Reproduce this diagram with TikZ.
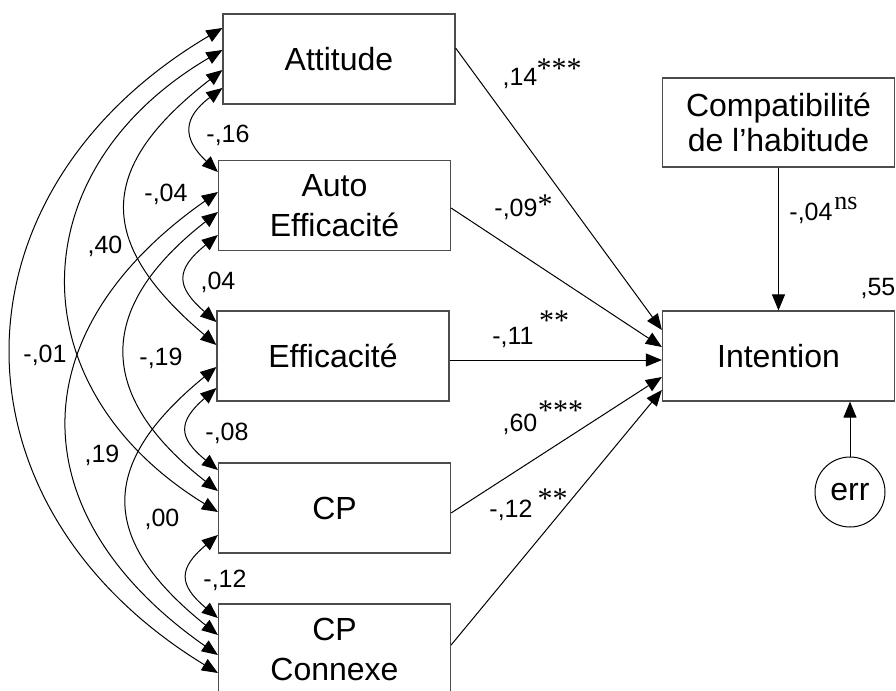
\documentclass[tikz,border=0pt]{standalone}
\usepackage{fontspec}
\setmainfont{Liberation Sans}
\newfontfamily\serifsig{Liberation Serif}
\usetikzlibrary{calc,arrows.meta}

\begin{document}
\begin{tikzpicture}[x=0.5pt, y=-0.5pt,
  >={Triangle[length=8pt,width=6.5pt]},
  var/.style={draw=black!70, line width=0.6pt, minimum width=116pt, minimum height=45pt,
    inner sep=0pt, align=center, font=\fontsize{16}{20}\selectfont},
  cov/.style={<->, line width=0.5pt},
  reg/.style={->, line width=0.5pt},
  coef/.style={font=\fontsize{12.5}{14}\selectfont, inner sep=0pt},
  sig/.style={font=\serifsig\fontsize{15}{17}\selectfont, inner sep=0pt}]

\useasboundingbox (0,0) rectangle (896,691);

% Predictors
\node[var] (att) at (339,59) {Attitude};
\node[var] (ae)  at (334.5,205.5) {Auto\\Efficacité};
\node[var] (eff) at (333,356) {Efficacité};
\node[var] (cp)  at (334.5,508) {CP};
\node[var] (cpc) at (334.5,649) {CP\\Connexe};

% Outcome, habit and error
\node[var] (intent) at (778.5,356) {Intention};
\node[var, minimum height=44.5pt, font=\fontsize{16}{17.5}\selectfont] (compat) at (778.5,122.5) {Compatibilité\\de l’habitude};
\node[draw, circle, line width=0.5pt, minimum size=35pt, inner sep=0pt, font=\fontsize{16}{20}\selectfont] (err) at (850,492) {err};

% Covariances between neighbours
\draw[cov] ($(att.west)+(0,29)$) to[bend right=50, looseness=1.5] ($(ae.west)+(0,-33.5)$);
\draw[cov] ($(ae.west)+(0,29.5)$) to[bend right=50, looseness=1.6] ($(eff.west)+(0,-34)$);
\draw[cov] ($(eff.west)+(0,32)$) to[bend right=50, looseness=1.6] ($(cp.west)+(0,-38)$);
\draw[cov] ($(cp.west)+(0,27)$) to[bend right=50, looseness=1.6] ($(cpc.west)+(0,-31)$);

% Covariances one box apart
\draw[cov] ($(att.west)+(0,11)$) to[bend right=51, looseness=1.48] ($(eff.west)+(0,-11)$);
\draw[cov] ($(ae.west)+(0,6.5)$) to[bend right=52, looseness=1.43] ($(cp.west)+(0,-17)$);
\draw[cov] ($(eff.west)+(0,11)$) to[bend right=51, looseness=1.46] ($(cpc.west)+(0,-14)$);

% Covariances further apart
\draw[cov] ($(att.west)+(0,-9)$) to[bend right=59, looseness=1.31] ($(cp.west)+(0,4)$);
\draw[cov] ($(ae.west)+(0,-13.5)$) to[bend right=55, looseness=1.35] ($(cpc.west)+(0,6)$);
\draw[cov] ($(att.west)+(0,-31)$) to[bend right=59, looseness=1.28] ($(cpc.west)+(0,24)$);

% Covariance values
\node[coef] at (228,135) {-,16};
\node[coef] at (218,282) {,04};
\node[coef] at (227,433) {-,08};
\node[coef] at (225,580) {-,12};
\node[coef] at (166,194) {-,04};
\node[coef] at (105,246) {,40};
\node[coef] at (45,355) {-,01};
\node[coef] at (161,358) {-,19};
\node[coef] at (102,455) {,19};
\node[coef] at (162,519) {,00};

% Paths to intention
\draw[reg] ($(att.east)+(0,-11)$) -- ($(intent.west)+(0,-26)$);
\draw[reg] ($(ae.east)+(0,2.5)$) -- ($(intent.west)+(0,-9)$);
\draw[reg] ($(eff.east)+(0,4)$) -- ($(intent.west)+(0,4)$);
\draw[reg] ($(cp.east)+(0,5)$) -- ($(intent.west)+(0,21)$);
\draw[reg] ($(cpc.east)+(0,-4)$) -- ($(intent.west)+(0,34)$);
\draw[reg] (compat.south) -- (intent.north);
\draw[reg] (err.north) -- (err |- intent.south);

% Path values
\node[coef] at (520,78) {,14};
\node[sig] at (559,68.5) {***};
\node[coef] at (516,209) {-,09};
\node[sig] at (545,204.5) {*};
\node[coef] at (513,337) {-,11};
\node[sig] at (554,320.5) {**};
\node[coef] at (520,424) {,60};
\node[sig] at (560.5,410.5) {***};
\node[coef] at (511,510) {-,12};
\node[sig] at (552.5,498.5) {**};
\node[coef] at (811,213) {-,04};
\node[font=\serifsig\fontsize{13}{15}\selectfont, inner sep=0pt] at (846,203) {ns};
\node[coef] at (878,288) {,55};

\end{tikzpicture}
\end{document}
